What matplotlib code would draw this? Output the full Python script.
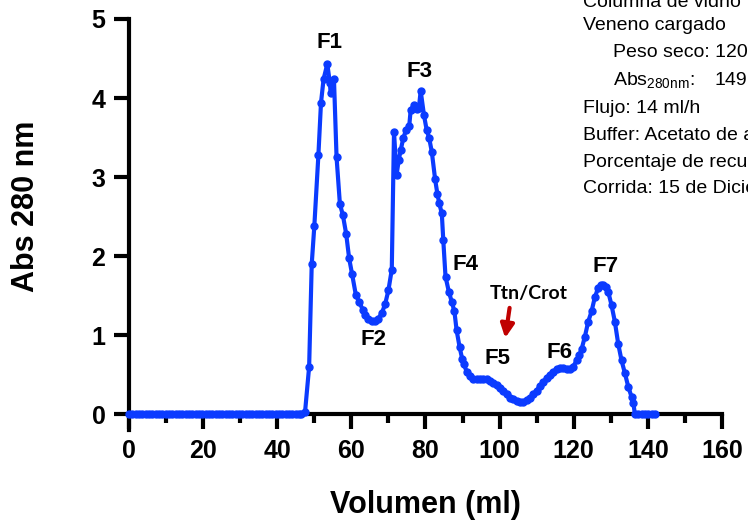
import matplotlib.pyplot as plt

plt.rcParams['font.family'] = ['Liberation Sans', 'DejaVu Sans']
plt.rcParams['mathtext.default'] = 'regular'

# fracciones: volumen (ml) y absorbancia a 280 nm
volumen = [0, 0.9, 1.8, 2.7, 3.6, 4.5, 5.4, 6.3, 7.2, 8.1, 9.0, 9.9, 10.8,
           11.7, 12.6, 13.5, 14.4, 15.3, 16.2, 17.1, 18.0, 18.9, 19.8, 20.7,
           21.6, 22.5, 23.4, 24.3, 25.2, 26.1, 27.0, 27.9, 28.8, 29.7, 30.6,
           31.5, 32.4, 33.3, 34.2, 35.1, 36.0, 36.9, 37.8, 38.7, 39.6, 40.5,
           41.4, 42.3, 43.2, 44.1, 45.0, 45.9, 46.4,
           47.5, 48.6, 49.3, 50.0, 51.1, 51.8, 52.5, 53.5, 54.2, 54.4, 55.3,
           56.0, 56.9, 57.7, 58.6, 59.4, 60.2, 61.2, 62.1, 63.1, 63.7, 64.6,
           65.5, 66.4, 67.3, 68.2, 69.1, 70.0, 70.9, 71.5, 72.2, 72.8, 73.3,
           74.0, 74.7, 75.6, 76.0, 76.9, 77.6, 78.2, 78.7, 79.6, 80.3, 81.0,
           81.7, 82.6, 83.2, 83.7, 84.4, 84.8, 85.4, 86.3, 87.1, 87.8, 88.4,
           89.2, 89.9, 90.3, 91.1, 92.0, 92.9, 93.8, 94.7, 95.6, 96.5, 97.4,
           98.3, 99.2, 100.1, 101.0, 101.9, 102.8, 103.7, 104.6, 105.5, 106.4,
           107.3, 108.2, 109.1, 110.0, 110.9, 111.8, 112.7, 113.6, 114.5,
           115.4, 116.3, 117.2, 118.1, 118.9, 119.8, 120.8, 121.5, 122.1,
           123.0, 123.9, 124.8, 125.7, 126.6, 127.3, 128.0, 128.6, 129.3,
           130.2, 131.1, 132.0, 132.9, 133.8, 134.7, 135.6, 136.1, 136.5,
           137.4, 138.3, 139.2, 140.1, 141.0, 141.9]
absorbancia = [0, 0, 0, 0, 0, 0, 0, 0, 0, 0, 0, 0, 0,
               0, 0, 0, 0, 0, 0, 0, 0, 0, 0, 0,
               0, 0, 0, 0, 0, 0, 0, 0, 0, 0, 0,
               0, 0, 0, 0, 0, 0, 0, 0, 0, 0, 0,
               0, 0, 0, 0, 0, 0, 0,
               0.03, 0.60, 1.90, 2.38, 3.28, 3.94, 4.24, 4.43, 4.19, 4.06, 4.24,
               3.25, 2.66, 2.52, 2.28, 1.97, 1.77, 1.51, 1.42, 1.32, 1.25, 1.21,
               1.18, 1.18, 1.21, 1.28, 1.39, 1.57, 1.83, 3.57, 3.03, 3.22, 3.34,
               3.49, 3.59, 3.64, 3.85, 3.91, 3.86, 3.87, 4.09, 3.78, 3.60, 3.49,
               3.32, 2.97, 2.79, 2.67, 2.54, 2.20, 1.74, 1.55, 1.42, 1.30, 1.06,
               0.85, 0.70, 0.64, 0.54, 0.48, 0.45, 0.45, 0.45, 0.45, 0.44, 0.42,
               0.40, 0.37, 0.33, 0.29, 0.25, 0.21, 0.19, 0.17, 0.16, 0.16,
               0.18, 0.21, 0.25, 0.30, 0.36, 0.41, 0.46, 0.50, 0.54,
               0.57, 0.58, 0.58, 0.57, 0.57, 0.60, 0.68, 0.75, 0.82,
               0.98, 1.17, 1.30, 1.48, 1.60, 1.63, 1.64, 1.61, 1.55,
               1.38, 1.17, 0.89, 0.68, 0.52, 0.35, 0.22, 0.14, 0.0,
               0, 0, 0, 0, 0, 0]

# etiquetas de las fracciones (texto, x, y)
fracciones = ['F1', 'F2', 'F3', 'F4', 'F5', 'F6', 'F7']
frac_x = [54.2, 66.1, 78.5, 90.7, 99.3, 116.2, 128.6]
frac_y = [4.70, 0.95, 4.34, 1.89, 0.71, 0.78, 1.87]

condiciones = ['Columna de vidrio', 'Veneno cargado', 'Peso seco: 120 mg',
               'Abs$_{280nm}$:', 'Flujo: 14 ml/h',
               'Buffer: Acetato de amonio', 'Porcentaje de recuperación',
               'Corrida: 15 de Diciembre']
sangria = [0, 0, 1, 1, 0, 0, 0, 0]
abs_cargada = '149'

fig = plt.figure(figsize=(7.48, 5.27), dpi=100)
ax = fig.add_axes([0.1725, 0.184, 0.7927, 0.780])

ax.plot(volumen, absorbancia, color='#0B3BFF', linewidth=3, marker='o',
        markersize=5, clip_on=False, zorder=5)

ax.set_xlim(0, 160)
ax.set_ylim(-0.2, 5)
ax.set_xticks(range(0, 161, 20))
ax.set_xticks(range(10, 160, 20), minor=True)
ax.set_yticks(range(0, 6))

ax.spines['top'].set_visible(False)
ax.spines['right'].set_visible(False)
ax.spines['bottom'].set_position(('data', 0))
for s in ('left', 'bottom'):
    ax.spines[s].set_linewidth(3)

ax.tick_params(axis='both', which='major', width=3, length=11, labelsize=18)
ax.tick_params(axis='x', which='major', pad=7)
ax.tick_params(axis='x', which='minor', width=3, length=6.5)
ax.tick_params(axis='y', pad=6)
for lab in ax.get_xticklabels() + ax.get_yticklabels():
    lab.set_fontweight('bold')

ax.set_xlabel('Volumen (ml)', fontsize=22, fontweight='bold')
ax.set_ylabel('Abs 280 nm', fontsize=22, fontweight='bold')
ax.xaxis.set_label_coords(0.50, -0.146)
ax.yaxis.set_label_coords(-0.148, 0.545)

for f, x, y in zip(fracciones, frac_x, frac_y):
    ax.text(x, y, f, fontsize=16, fontweight='bold', ha='center', va='center')

ax.text(107.9, 1.53, 'Ttn/Crot', family=['Lato', 'DejaVu Sans'],
        fontsize=14, fontweight='bold', ha='center', va='center')
ax.annotate('', xy=(101.4, 0.93), xytext=(102.8, 1.38),
            arrowprops=dict(arrowstyle='-|>,head_width=0.4,head_length=0.8',
                            color='#C00000', lw=3))

# bloque de condiciones en la esquina superior derecha
baselines = [7, 30, 57, 85, 113, 140, 167, 193]
for t, b, s in zip(condiciones, baselines, sangria):
    fig.text((583 + 30 * s) / 748, 1 - b / 527, t, fontsize=14,
             va='baseline', ha='left')
fig.text(715 / 748, 1 - 85 / 527, abs_cargada, fontsize=14,
         va='baseline', ha='left')

fig.savefig('out.png', dpi=100)
